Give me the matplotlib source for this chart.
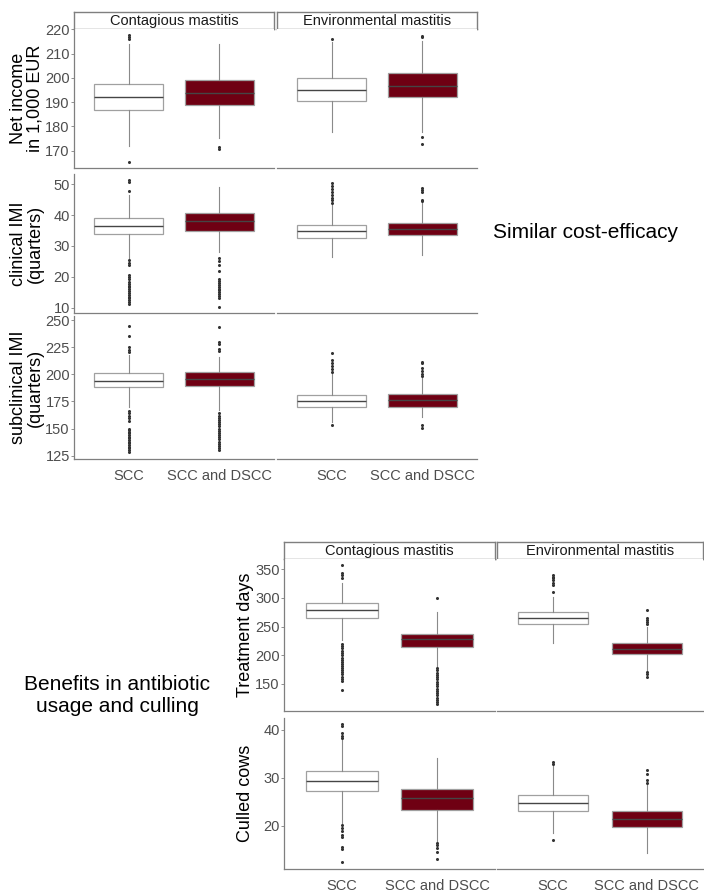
import matplotlib
matplotlib.use("Agg")
import matplotlib.pyplot as plt

plt.rcParams['font.family'] = ['Liberation Sans', 'DejaVu Sans']

W, H = 704, 893

groups = ["SCC", "SCC and DSCC"]
facets = ["Contagious mastitis", "Environmental mastitis"]
box_fill = ["white", "#6f0013"]

# box stats: (whisker low, q1, median, q3, whisker high)
# order: contagious SCC, contagious SCC+DSCC, environmental SCC, environmental SCC+DSCC
net_income_box = [(172.1, 186.8, 192.0, 197.3, 213.8), (175.1, 188.8, 193.6, 199.1, 213.8),
                  (177.7, 190.3, 195.0, 200.1, 214.6), (177.7, 192.1, 196.5, 201.9, 215.3)]
net_income_out = [[217.7, 216.8, 216.0, 165.5], [171.6, 170.8],
                  [216.0], [217.4, 216.9, 175.8, 172.6]]

clinical_box = [(26.0, 33.8, 36.4, 39.0, 46.5), (28.2, 34.9, 38.0, 40.6, 49.2),
                (26.5, 32.7, 34.8, 36.7, 43.3), (27.1, 33.6, 35.5, 37.5, 43.8)]
clinical_out = [[51.2, 50.6, 47.8, 25.4, 24.6, 23.8, 20.6, 20.0, 19.4, 18.4, 17.8, 17.2, 16.6,
                 16.0, 15.4, 14.8, 14.2, 13.6, 13.0, 12.4, 11.8, 11.2],
                [26.2, 25.0, 23.8, 21.8, 19.2, 18.6, 18.0, 17.4, 16.8, 16.2, 15.6, 15.0, 14.4,
                 13.8, 13.2, 10.4],
                [50.5, 49.4, 48.4, 47.4, 46.6, 45.6, 44.8, 44.0],
                [48.7, 48.1, 47.5, 45.0, 44.4]]

subclinical_box = [(170.1, 188.0, 194.1, 200.9, 217.8), (167.0, 189.5, 195.6, 202.4, 216.2),
                   (156.3, 170.1, 175.1, 180.6, 200.9), (161.0, 170.1, 176.3, 181.8, 196.3)]
subclinical_out = [[244.5, 235.3, 225.4, 222.4, 220.8, 166.5, 164.5, 162.0, 160.0, 157.0, 150.0,
                    148.5, 147.0, 145.5, 144.0, 142.5, 141.0, 139.5, 138.0, 136.5, 135.0, 133.5,
                    132.0, 130.0, 128.0],
                   [243.9, 229.4, 227.5, 223.5, 221.8, 164.0, 162.0, 160.0, 158.0, 156.0, 154.0,
                    152.0, 150.0, 148.0, 146.0, 144.0, 142.0, 140.0, 138.0, 136.0, 134.0, 132.0,
                    130.5],
                   [219.3, 213.5, 210.5, 207.5, 205.0, 202.5, 153.3],
                   [211.5, 210.0, 206.0, 203.5, 200.5, 198.5, 153.0, 151.0]]

treatment_box = [(226.7, 264.5, 278.5, 290.7, 325.6), (182.0, 215.1, 227.9, 237.8, 276.0),
                 (222.0, 254.1, 264.5, 276.2, 302.0), (174.4, 201.7, 210.5, 221.0, 250.0)]
treatment_out = [[357.6, 343.0, 340.0, 335.0, 220.0, 216.0, 212.0, 208.0, 204.0, 200.0, 196.0,
                  192.0, 188.0, 185.0, 182.0, 178.0, 175.0, 171.0, 167.0, 163.0, 159.0, 155.0,
                  139.5],
                 [299.4, 178.0, 174.0, 170.0, 166.0, 162.0, 158.0, 154.0, 150.0, 146.0, 142.0,
                  138.0, 134.0, 130.0, 126.0, 122.0, 118.0, 115.0],
                 [340.0, 337.0, 334.0, 331.0, 327.0, 322.0, 310.0],
                 [279.0, 265.0, 262.0, 258.0, 254.0, 171.5, 167.0, 163.0]]

culled_box = [(20.6, 27.3, 29.4, 31.5, 37.9), (16.7, 23.3, 25.8, 27.8, 34.1),
              (18.5, 23.1, 24.7, 26.5, 32.7), (14.4, 19.7, 21.5, 23.1, 28.5)]
culled_out = [[41.2, 40.8, 39.3, 38.8, 38.3, 20.2, 19.6, 19.0, 18.2, 17.8, 15.7, 15.3, 12.4],
              [16.4, 16.0, 15.5, 14.5, 13.2],
              [33.3, 33.0, 17.1],
              [31.7, 30.8, 29.5, 29.0]]

GRAY = '#8a8a8a'

fig = plt.figure(figsize=(W / 100, H / 100), dpi=100)


def px_axes(x0, y0, x1, y1):
    return fig.add_axes([x0 / W, 1 - y1 / H, (x1 - x0) / W, (y1 - y0) / H])


def px_text(x, y, s, **kw):
    fig.text(x / W, 1 - y / H, s, **kw)


def strip(x0, y0, x1, y1, label):
    ax = px_axes(x0, y0, x1, y1)
    ax.set_xticks([])
    ax.set_yticks([])
    for sp in ax.spines.values():
        sp.set_color('#7f7f7f')
        sp.set_linewidth(1.0)
    ax.text(0.5, 0.48, label, ha='center', va='center', fontsize=10.5,
            color='#1a1a1a', transform=ax.transAxes)


def panel(rect, boxes, outs, ylim, yticks, show_y, show_x):
    ax = px_axes(*rect)
    stats = [dict(whislo=b[0], q1=b[1], med=b[2], q3=b[3], whishi=b[4], fliers=o)
             for b, o in zip(boxes, outs)]
    art = ax.bxp(stats, positions=[1, 2], widths=0.75, patch_artist=True, showcaps=False,
                 boxprops=dict(edgecolor='#a0a0a0', linewidth=0.9),
                 whiskerprops=dict(color=GRAY, linewidth=0.8),
                 medianprops=dict(color='#454545', linewidth=1.0),
                 flierprops=dict(marker='o', markersize=1.2, markerfacecolor='#333333',
                                 markeredgecolor='#333333', linestyle='none'))
    for patch, c in zip(art['boxes'], box_fill):
        patch.set_facecolor(c)
    ax.set_xlim(0.4, 2.6)
    ax.set_ylim(*ylim)
    ax.set_yticks(yticks)
    for side in ['top', 'right']:
        ax.spines[side].set_visible(False)
    ax.spines['bottom'].set_color('#7f7f7f')
    ax.spines['bottom'].set_linewidth(0.9)
    ax.spines['left'].set_color('#7f7f7f')
    ax.spines['left'].set_linewidth(0.9)
    ax.spines['left'].set_visible(show_y)
    ax.tick_params(axis='y', length=2, width=0.6, color='#7f7f7f', labelsize=10.5,
                   labelcolor='#4d4d4d', pad=1, left=show_y, labelleft=show_y)
    ax.set_xticks([1, 2])
    ax.set_xticklabels(groups if show_x else ['', ''])
    ax.tick_params(axis='x', length=0, labelsize=10.5, labelcolor='#4d4d4d', pad=7)
    return ax


# ---- top block: similar cost-efficacy
top_cols = [(74, 274), (277, 477)]
top_rows = [(29, 168), (174, 313), (316, 459)]
top_data = [
    (net_income_box, net_income_out, (162.9, 220.1), [170, 180, 190, 200, 210, 220]),
    (clinical_box, clinical_out, (8.3, 53.3), [10, 20, 30, 40, 50]),
    (subclinical_box, subclinical_out, (122, 253.7), [125, 150, 175, 200, 225, 250]),
]
top_labels = ["Net income\nin 1,000 EUR", "clinical IMI\n(quarters)", "subclinical IMI\n(quarters)"]

for j, (x0, x1) in enumerate(top_cols):
    strip(x0, 12, x1, 29, facets[j])
for i, (y0, y1) in enumerate(top_rows):
    boxes, outs, ylim, yt = top_data[i]
    for j, (x0, x1) in enumerate(top_cols):
        panel((x0, y0, x1, y1), boxes[2 * j:2 * j + 2], outs[2 * j:2 * j + 2], ylim, yt,
              show_y=(j == 0), show_x=(i == len(top_rows) - 1))
    px_text(27, (y0 + y1) / 2, top_labels[i], rotation=90, ha='center', va='center',
            fontsize=13, color='black', linespacing=0.95)

px_text(493, 233, "Similar cost-efficacy", ha='left', va='center', fontsize=15, color='black')

# ---- bottom block: antibiotic usage and culling
bot_cols = [(284, 495), (497, 703)]
bot_rows = [(559, 711), (718, 869)]
bot_data = [
    (treatment_box, treatment_out, (102.9, 368), [150, 200, 250, 300, 350]),
    (culled_box, culled_out, (11.04, 42.5), [20, 30, 40]),
]
bot_labels = ["Treatment days", "Culled cows"]

for j, (x0, x1) in enumerate(bot_cols):
    strip(x0, 542, x1, 559, facets[j])
for i, (y0, y1) in enumerate(bot_rows):
    boxes, outs, ylim, yt = bot_data[i]
    for j, (x0, x1) in enumerate(bot_cols):
        panel((x0, y0, x1, y1), boxes[2 * j:2 * j + 2], outs[2 * j:2 * j + 2], ylim, yt,
              show_y=(j == 0), show_x=(i == len(bot_rows) - 1))
    px_text(246, (y0 + y1) / 2, bot_labels[i], rotation=90, ha='center', va='center',
            fontsize=13, color='black')

px_text(117, 696, "Benefits in antibiotic\nusage and culling", ha='center', va='center',
        fontsize=15, color='black', linespacing=1.2)

fig.savefig("out.png", dpi=100)
